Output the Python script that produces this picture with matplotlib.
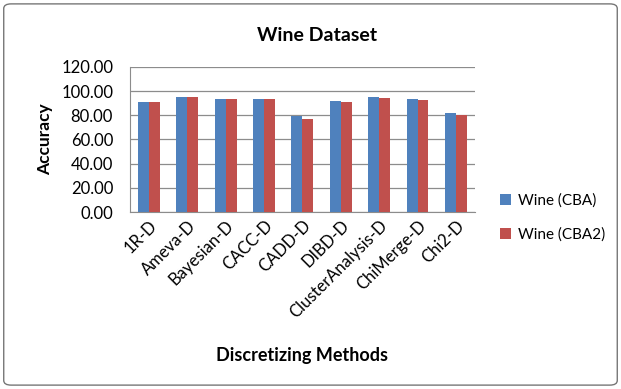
import numpy as np
import matplotlib
matplotlib.use("Agg")
import matplotlib.pyplot as plt
from matplotlib.patches import FancyBboxPatch

# Data
methods = ['1R-D', 'Ameva-D', 'Bayesian-D', 'CACC-D', 'CADD-D', 'DIBD-D',
           'ClusterAnalysis-D', 'ChiMerge-D', 'Chi2-D']
wine_cba = [91.1, 94.7, 93.6, 93.6, 79.5, 92.0, 95.0, 93.6, 82.0]
wine_cba2 = [90.6, 94.7, 93.6, 93.6, 77.3, 91.1, 94.2, 92.8, 80.1]
y_ticks = [0, 20, 40, 60, 80, 100, 120]

plt.rcParams['font.family'] = ['Lato', 'DejaVu Sans']

fig = plt.figure(figsize=(6.21, 3.89), dpi=100)
ax = fig.add_axes([0.209, 0.455, 0.556, 0.373])

# Outer chart border
border = FancyBboxPatch((0.006, 0.01), 0.988, 0.98, boxstyle="round,pad=0,rounding_size=0.012",
                        transform=fig.transFigure, fill=False, edgecolor='#777777', linewidth=1)
fig.patches.append(border)

x = np.arange(len(methods))
w = 0.285
ax.bar(x - w / 2, wine_cba, w, color='#4F81BD', label='Wine (CBA)', zorder=3)
ax.bar(x + w / 2, wine_cba2, w, color='#C0504D', label='Wine (CBA2)', zorder=3)

ax.set_xlim(-0.5, len(methods) - 0.5)
ax.set_ylim(0, 120)
ax.set_yticks(y_ticks)
ax.set_yticklabels([f'{v:.2f}' for v in y_ticks], fontsize=12)
ax.set_xticks(x)
ax.set_xticklabels(methods, rotation=45, ha='right', rotation_mode='anchor', fontsize=12)
ax.tick_params(axis='both', length=0, pad=4)
ax.tick_params(axis='y', pad=12)
ax.yaxis.grid(True, color='#8c8c8c', linewidth=0.9, zorder=0)

for s in ['top', 'right']:
    ax.spines[s].set_visible(False)
ax.spines['left'].set_color('#8c8c8c')
ax.spines['bottom'].set_color('#8c8c8c')

ax.set_ylabel('Accuracy', fontsize=12.5, fontweight='bold', labelpad=6)
fig.text(0.51, 0.91, 'Wine Dataset', ha='center', va='center', fontsize=14, fontweight='bold')
fig.text(0.487, 0.085, 'Discretizing Methods', ha='center', va='center', fontsize=13, fontweight='bold')

fig.legend(loc='center left', bbox_to_anchor=(0.783, 0.44), frameon=False, fontsize=11,
           handlelength=0.7, handleheight=0.7, labelspacing=1.3, handletextpad=0.5)

fig.savefig('out.png', dpi=100)
